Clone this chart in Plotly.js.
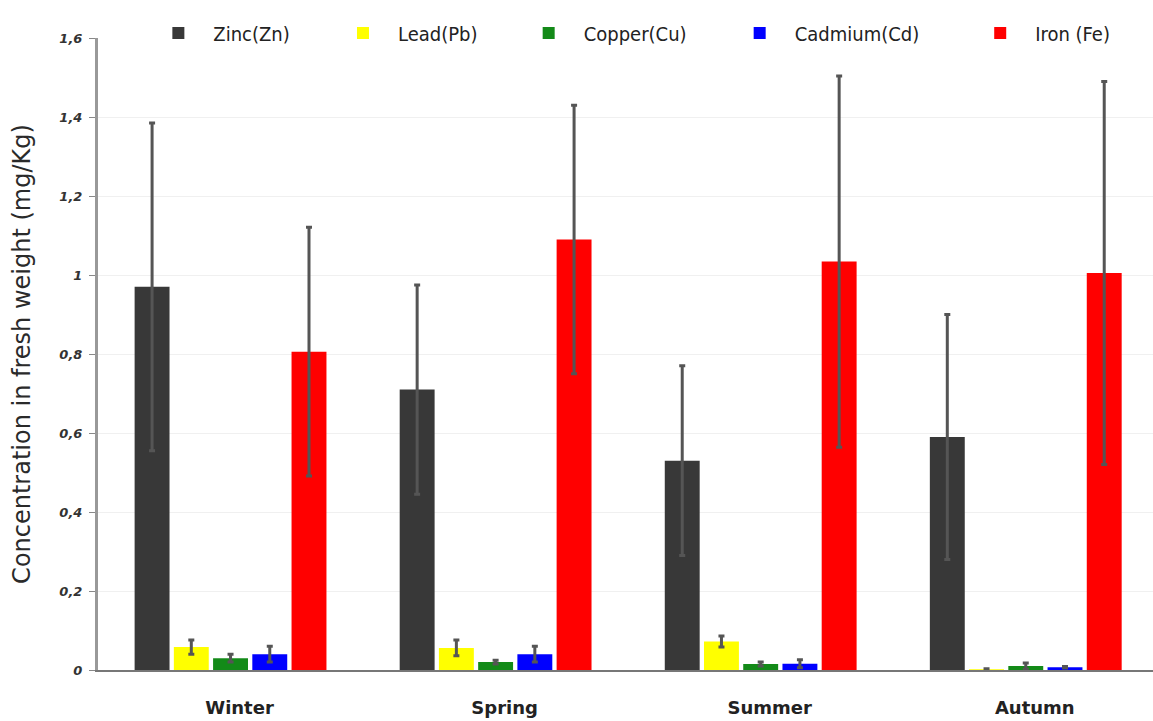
<!DOCTYPE html>
<html>
<head>
<meta charset="utf-8">
<script src="https://cdn.plot.ly/plotly-3.0.1.min.js"></script>
<style>html,body{margin:0;padding:0;background:#fff;}#chart{width:1153px;height:721px;}</style>
</head>
<body>
<div id="chart"></div>
<script>
const seasons = ["Winter", "Spring", "Summer", "Autumn"];
const seriesNames = ["Zinc(Zn)", "Lead(Pb)", "Copper(Cu)", "Cadmium(Cd)", "Iron (Fe)"];
const zinc = [0.97, 0.71, 0.53, 0.59];
const zincErr = [0.415, 0.265, 0.24, 0.31];
const lead = [0.058, 0.056, 0.072, 0.002];
const leadErr = [0.018, 0.02, 0.014, 0.001];
const copper = [0.03, 0.02, 0.015, 0.01];
const copperErr = [0.01, 0.005, 0.005, 0.008];
const cadmium = [0.04, 0.04, 0.016, 0.007];
const cadmiumErr = [0.02, 0.02, 0.01, 0.002];
const iron = [0.806, 1.09, 1.034, 1.005];
const ironErr = [0.315, 0.34, 0.47, 0.485];
const colors = ["#383838", "#ffff00", "#138a18", "#0000ff", "#ff0000"];
const yTicks = [0, 0.2, 0.4, 0.6, 0.8, 1, 1.2, 1.4, 1.6];

const vals = [zinc, lead, copper, cadmium, iron];
const errs = [zincErr, leadErr, copperErr, cadmiumErr, ironErr];
const legendIds = ['legend', 'legend2', 'legend3', 'legend4', 'legend5'];
const legendX = [0.043, 0.218, 0.394, 0.594, 0.822];

const traces = seriesNames.map((n, i) => ({
  type: 'bar',
  name: n,
  x: seasons,
  y: vals[i],
  legend: legendIds[i],
  marker: {color: colors[i]},
  error_y: {type: 'data', array: errs[i], visible: true, color: '#555555', thickness: 3, width: 3}
}));

const layout = {
  width: 1153, height: 721,
  margin: {l: 98, r: 0, t: 38, b: 51},
  paper_bgcolor: '#ffffff', plot_bgcolor: '#ffffff',
  barmode: 'group',
  bargap: 0.26,
  bargroupgap: 0.11,
  separators: ', ',
  font: {family: 'DejaVu Sans, sans-serif', color: '#222'},
  xaxis: {
    range: [-0.5, 3.48],
    showline: true, linecolor: '#777', linewidth: 2,
    ticks: '', showgrid: false,
    ticklabelstandoff: 20,
    ticklabelshift: 9,
    tickfont: {size: 18, color: '#222', family: 'DejaVu Sans, sans-serif', weight: 'bold'}
  },
  yaxis: {
    range: [0, 1.6],
    tickvals: yTicks,
    showline: true, linecolor: '#999', linewidth: 3,
    ticks: 'outside', ticklen: 6, tickcolor: '#888', tickwidth: 1,
    ticklabelstandoff: 4,
    showgrid: true, gridcolor: '#f0f0f0', gridwidth: 1,
    zeroline: false,
    tickfont: {size: 13, color: '#333', family: 'DejaVu Sans, sans-serif', weight: 'bold', style: 'italic'},
    title: {text: 'Concentration in fresh weight (mg/Kg)', font: {size: 24, color: '#2a2a2a', family: 'DejaVu Sans, sans-serif'}, standoff: 22}
  },
  showlegend: true
};
legendIds.forEach((id, i) => {
  layout[id] = {
    orientation: 'h', x: legendX[i], y: 1.008, xanchor: 'left', yanchor: 'middle',
    itemwidth: 60, bgcolor: 'rgba(0,0,0,0)',
    font: {size: 20, color: '#222', family: 'DejaVu Sans Condensed, DejaVu Sans, sans-serif'}
  };
});

Plotly.newPlot('chart', traces, layout, {displayModeBar: false, staticPlot: true});
</script>
</body>
</html>
